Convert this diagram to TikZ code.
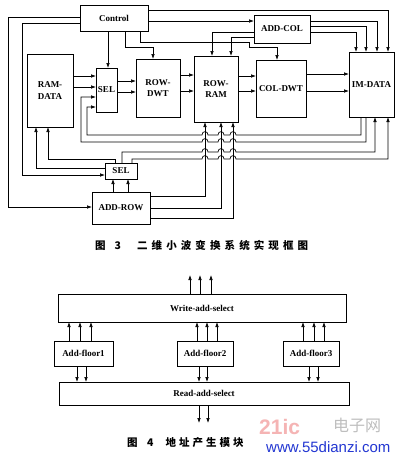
\documentclass[tikz,border=0pt]{standalone}
\usepackage{fontspec}
\setmainfont{Liberation Serif}
\setsansfont{Liberation Sans}
\newfontfamily\cjk{Noto Sans CJK SC}
\usetikzlibrary{arrows.meta}
\definecolor{wmblue}{RGB}{35,55,210}
\definecolor{wmred}{RGB}{245,180,180}
\definecolor{wmgray}{RGB}{190,190,190}
\begin{document}
\begin{tikzpicture}[x=1pt,y=-1pt,
 box/.style={draw,line width=0.8pt,inner sep=0pt,outer sep=0pt,align=center,font=\fontsize{9}{11.5}\selectfont\bfseries},
 lbox/.style={draw,line width=0.8pt,inner sep=0pt,outer sep=0pt,align=center,font=\fontsize{9}{10}\selectfont\bfseries},
 wire/.style={line width=0.7pt},
 arr/.style={wire,-{Latex[length=5pt,width=3.6pt]}},
 hopL/.style 2 args={insert path={-- ({#1+3},#2) .. controls ({#1+3},{#2-4.5}) and ({#1-3},{#2-4.5}) .. ({#1-3},#2)}},
 hopR/.style 2 args={insert path={-- ({#1-3},#2) .. controls ({#1-3},{#2-4.5}) and ({#1+3},{#2-4.5}) .. ({#1+3},#2)}},
 captxt/.style={inner sep=0pt,anchor=west,font=\cjk\bfseries\fontsize{10.5}{10.5}\selectfont}
]
\useasboundingbox[fill=white] (0,0) rectangle (400,458);

% ---------- Figure 3 ----------
\node[box,minimum width=68pt,minimum height=26pt] (ctrl) at (114,18) {Control};
\node[box,minimum width=46pt,minimum height=73pt] (ramdata) at (50,90.5) {RAM-\\DATA};
\node[box,minimum width=21pt,minimum height=44pt] (sel1) at (106.5,90) {SEL};
\node[box,minimum width=44pt,minimum height=58pt] (rowdwt) at (158,88) {ROW-\\DWT};
\node[box,minimum width=44pt,minimum height=66pt] (rowram) at (216,89) {ROW-\\RAM};
\node[box,minimum width=50pt,minimum height=57pt] (coldwt) at (281,88.5) {COL-DWT};
\node[box,minimum width=45pt,minimum height=65pt] (imdata) at (371.5,84.5) {IM-DATA};
\node[box,minimum width=56pt,minimum height=28pt] (addcol) at (282,29) {ADD-COL};
\node[box,minimum width=32pt,minimum height=16pt] (sel2) at (121,171) {SEL};
\node[box,minimum width=58pt,minimum height=32pt] (addrow) at (121,208) {ADD-ROW};

% Control left side
\draw[arr] (ctrl.west |- 0,17) -- (8,17) -- (8,207) -- (addrow.west |- 0,207);
\draw[arr] (ctrl.west |- 0,23) -- (22,23) -- (22,175) -- (sel2.west |- 0,175);
% Control bottom
\draw[arr] (108,0 |- ctrl.south) -- (108,0 |- sel1.north);
\draw[arr] (125,0 |- ctrl.south) -- (125,47) -- (153,47) -- (153,0 |- rowdwt.north);
\draw[arr] (140,0 |- ctrl.south) -- (140,42) -- (249,42) -- (249,47) -- (277,47) -- (277,0 |- coldwt.north);
% Control right
\draw[arr] (ctrl.east |- 0,10) -- (388,10) -- (388,0 |- imdata.north);
\draw[arr] (ctrl.east |- 0,21) -- (addcol.west |- 0,21);
% ADD-COL outputs
\draw[arr] (addcol.west |- 0,32) -- (212,32) -- (212,0 |- rowram.north);
\draw[arr] (addcol.west |- 0,37) -- (231,37) -- (231,0 |- rowram.north);
\draw[arr] (addcol.east |- 0,21) -- (377,21) -- (377,0 |- imdata.north);
\draw[arr] (addcol.east |- 0,26) -- (366,26) -- (366,0 |- imdata.north);
\draw[arr] (addcol.east |- 0,32) -- (356,32) -- (356,0 |- imdata.north);

% data path
\draw[arr] (ramdata.east |- 0,76) -- (sel1.west |- 0,76);
\draw[arr] (ramdata.east |- 0,87) -- (sel1.west |- 0,87);
\draw[arr] (sel1.east |- 0,81) -- (rowdwt.west |- 0,81);
\draw[arr] (sel1.east |- 0,92) -- (rowdwt.west |- 0,92);
\draw[arr] (rowdwt.east |- 0,75) -- (rowram.west |- 0,75);
\draw[arr] (rowdwt.east |- 0,91) -- (rowram.west |- 0,91);
\draw[arr] (rowram.east |- 0,76) -- (coldwt.west |- 0,76);
\draw[arr] (rowram.east |- 0,91) -- (coldwt.west |- 0,91);
\draw[arr] (coldwt.east |- 0,74) -- (imdata.west |- 0,74);
\draw[arr] (coldwt.east |- 0,91) -- (imdata.west |- 0,91);

% ADD-ROW -> SEL2
\draw[arr] (113,0 |- addrow.north) -- (113,0 |- sel2.south);
\draw[arr] (128,0 |- addrow.north) -- (128,0 |- sel2.south);
% SEL2 -> RAM-DATA
\draw[arr] (sel2.west |- 0,168) -- (36,168) -- (36,0 |- ramdata.south);
\draw[arr] (115,0 |- sel2.north) -- (115,159) -- (48,159) -- (48,0 |- ramdata.south);
% ADD-ROW -> ROW-RAM
\draw[arr] (addrow.east |- 0,196) -- (205,196) -- (205,0 |- rowram.south);
\draw[arr] (addrow.east |- 0,208) -- (221,208) -- (221,0 |- rowram.south);
\draw[arr] (addrow.east |- 0,218) -- (233,218) -- (233,0 |- rowram.south);
% IM-DATA -> SEL1 (with hops)
\draw[arr] (361,0 |- imdata.south) -- (361,135) [hopL={233}{135}] [hopL={221}{135}] [hopL={205}{135}] -- (87,135) -- (87,107) -- (sel1.west |- 0,107);
\draw[arr] (366,0 |- imdata.south) -- (366,142) [hopL={233}{142}] [hopL={221}{142}] [hopL={205}{142}] -- (81,142) -- (81,97) -- (sel1.west |- 0,97);
% SEL2 -> IM-DATA (with hops)
\draw[arr] (122,0 |- sel2.north) -- (122,152) [hopR={205}{152}] [hopR={221}{152}] [hopR={233}{152}] -- (375,152) -- (375,0 |- imdata.south);
\draw[arr] (132,0 |- sel2.north) -- (132,159) [hopR={205}{159}] [hopR={221}{159}] [hopR={233}{159}] -- (388,159) -- (388,0 |- imdata.south);

\node[captxt] (cap3) at (95,245) {图\hspace{9pt}3\hspace{16pt}二\hspace{4.1pt}维\hspace{4.1pt}小\hspace{4.1pt}波\hspace{4.1pt}变\hspace{4.1pt}换\hspace{4.1pt}系\hspace{4.1pt}统\hspace{4.1pt}实\hspace{4.1pt}现\hspace{4.1pt}框\hspace{4.1pt}图};

% ---------- Figure 4 ----------
\node[lbox,minimum width=288pt,minimum height=28pt] (wsel) at (202,308) {Write-add-select};
\node[lbox,minimum width=59pt,minimum height=25pt] (af1) at (83.5,353.5) {Add-floor1};
\node[lbox,minimum width=56pt,minimum height=25pt] (af2) at (205,353.5) {Add-floor2};
\node[lbox,minimum width=56pt,minimum height=25pt] (af3) at (311,353.5) {Add-floor3};
\node[lbox,minimum width=290pt,minimum height=23pt] (rsel) at (204,393.5) {Read-add-select};

\foreach \x in {190,200,211} {\coordinate (wo\x) at (\x,275); \draw[arr] (\x,0 |- wsel.north) -- (wo\x);}
\foreach \x in {69,80,91} \draw[arr] (\x,0 |- af1.north) -- (\x,0 |- wsel.south);
\foreach \x in {77,86} \draw[arr] (\x,0 |- af1.south) -- (\x,0 |- rsel.north);
\foreach \x in {197,207,217} \draw[arr] (\x,0 |- af2.north) -- (\x,0 |- wsel.south);
\foreach \x in {199,207} \draw[arr] (\x,0 |- af2.south) -- (\x,0 |- rsel.north);
\foreach \x in {303,314,324} \draw[arr] (\x,0 |- af3.north) -- (\x,0 |- wsel.south);
\foreach \x in {309,318} \draw[arr] (\x,0 |- af3.south) -- (\x,0 |- rsel.north);
\foreach \x in {199,208} {\coordinate (ro\x) at (\x,423); \draw[arr] (\x,0 |- rsel.south) -- (ro\x);}

% watermark
\node[inner sep=0pt,font=\sffamily\bfseries\fontsize{21}{21}\selectfont,text=wmred,anchor=west] (wm1) at (259,427) {21ic};
\node[inner sep=0pt,font=\cjk\fontsize{16}{16}\selectfont,text=wmgray,anchor=west] (wm2) at (333,425) {电子网};

\node[captxt] (cap4) at (127,443) {图\hspace{9.5pt}4\hspace{12pt}地\hspace{3pt}址\hspace{3pt}产\hspace{3pt}生\hspace{3pt}模\hspace{3pt}块};

\node[inner sep=0pt,font=\sffamily\fontsize{15}{15}\selectfont,text=wmblue,anchor=west] (wm3) at (266,447) {www.55dianzi.com};
\end{tikzpicture}
\end{document}
